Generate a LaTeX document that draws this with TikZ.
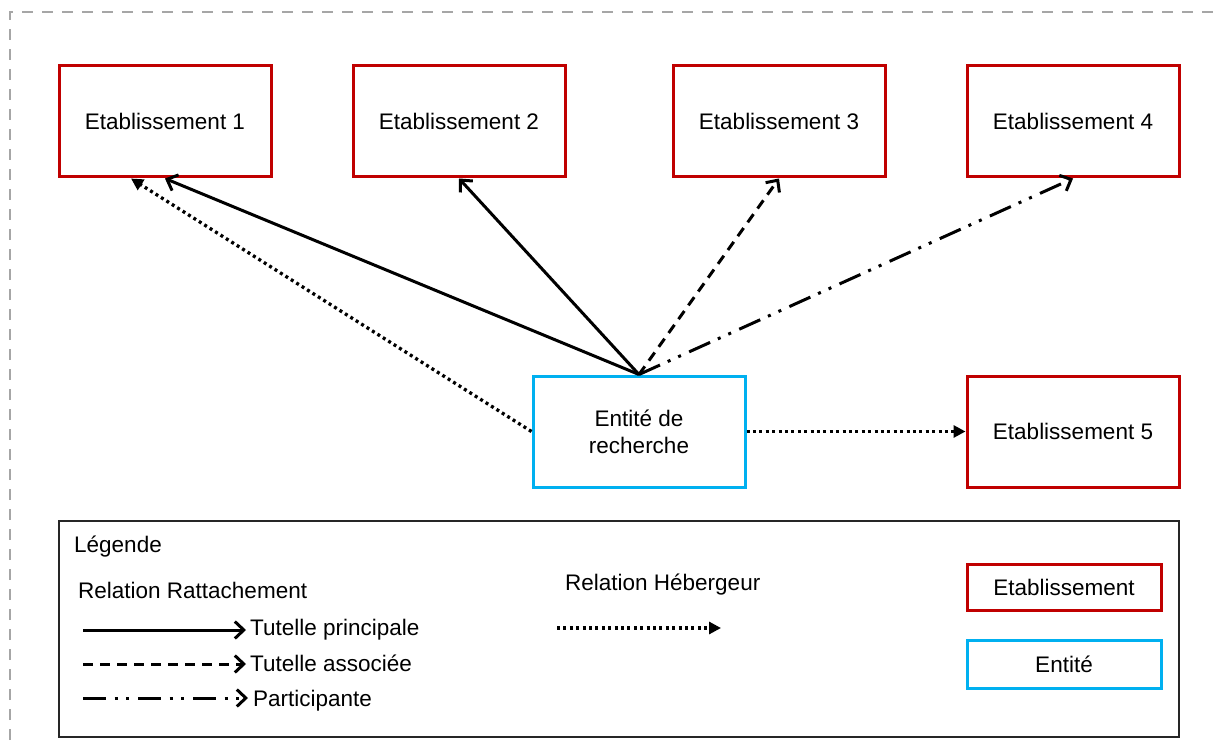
\documentclass[tikz,border=0pt]{standalone}
\usepackage{fontspec}
\setmainfont{Liberation Sans}
\usetikzlibrary{arrows.meta,calc}

\definecolor{etabred}{HTML}{C00000}
\definecolor{entblue}{HTML}{00B0F0}
\definecolor{framegray}{HTML}{A6A6A6}

\tikzset{
  every node/.style={font=\fontsize{22.5}{27}\selectfont},
  etab/.style={draw=etabred, line width=3pt, minimum width=212pt, minimum height=111pt, inner sep=0pt, align=center},
  entite/.style={draw=entblue, line width=3pt, minimum width=212pt, minimum height=111pt, inner sep=0pt, align=center},
  legetab/.style={draw=etabred, line width=3pt, minimum width=194pt, minimum height=46pt, inner sep=0pt},
  legent/.style={draw=entblue, line width=3pt, minimum width=194pt, minimum height=48pt, inner sep=0pt},
  txt/.style={anchor=base west, inner sep=0pt},
  barb/.style={-{Straight Barb[length=9pt,width=17pt,line width=3pt]}},
  principale/.style={line width=3pt, barb},
  associee/.style={line width=3pt, dash pattern=on 10pt off 7pt, barb},
  participante/.style={line width=3pt, dash pattern=on 23pt off 8.5pt on 3pt off 8.5pt on 3pt off 9pt, barb},
  hebergeur/.style={line width=3.3pt, dash pattern=on 3pt off 3.4pt, -{Triangle[length=12pt,width=12pt]}},
}

\begin{document}
\begin{tikzpicture}[x=1pt,y=-1pt]
\useasboundingbox (0,0) rectangle (1215,746);
\clip (0,0) rectangle (1215,746);

% outer frame, running past the page edges
\draw[framegray, line width=2.5pt, dash pattern=on 11pt off 9pt] (10,760) -- (10,12) -- (1230,12);

% establishments and research entity
\node[etab] (e1) at (165,121.5) {Etablissement 1};
\node[etab] (e2) at (459,121.5) {Etablissement 2};
\node[etab] (e3) at (779,121.5) {Etablissement 3};
\node[etab] (e4) at (1073,121.5) {Etablissement 4};
\node[etab] (e5) at (1073,431.5) {Etablissement 5};
\node[entite] (ent) at (639,431.5) {Entité de\\recherche};

% relations
\draw[principale] (ent.north) -- (e1.south);
\draw[principale] (ent.north) -- (e2.south);
\draw[associee] (ent.north) -- (e3.south);
\draw[participante] (ent.north) -- (e4.south);
\draw[hebergeur] (ent.west) -- ([xshift=-34pt]e1.south);
\draw[hebergeur] (ent.east) -- (e5.west);

% legend
\node[draw=black!85, line width=2.5pt, minimum width=1120pt, minimum height=216pt, inner sep=0pt] (leg) at (619,629) {};
\node[txt] (legtitle) at (74,552) {Légende};
\node[txt] (rattach) at (78,598) {Relation Rattachement};
\node[txt] (heberg) at (565,590) {Relation Hébergeur};

\coordinate (p1) at (83,630);  \coordinate (p2) at (246,630);
\coordinate (a1) at (83,664);  \coordinate (a2) at (246,664);
\coordinate (c1) at (83,698);  \coordinate (c2) at (248,698);
\coordinate (h1) at (557,628); \coordinate (h2) at (721,628);
\draw[principale] (p1) -- (p2);
\draw[associee] (a1) -- (a2);
\draw[participante] (c1) -- (c2);
\draw[hebergeur] (h1) -- (h2);

\node[txt] (tp) at (250,635) {Tutelle principale};
\node[txt] (ta) at (250,671) {Tutelle associée};
\node[txt] (pa) at (253,706) {Participante};

\node[legetab] (lege) at (1064,587) {Etablissement};
\node[legent] (legn) at (1064,664) {Entité};
\end{tikzpicture}
\end{document}
